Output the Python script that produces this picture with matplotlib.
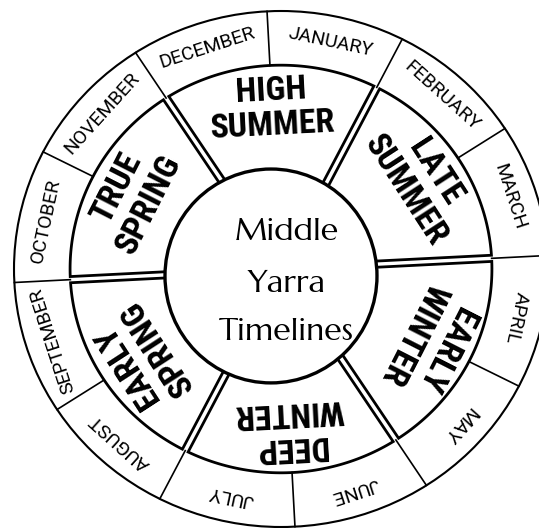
import numpy as np
import matplotlib
matplotlib.use("Agg")
import matplotlib.pyplot as plt
from matplotlib import font_manager as fm
from matplotlib.patches import Polygon, Ellipse, Circle

months = ["JANUARY", "FEBRUARY", "MARCH", "APRIL", "MAY", "JUNE",
          "JULY", "AUGUST", "SEPTEMBER", "OCTOBER", "NOVEMBER", "DECEMBER"]
season_top = ["HIGH", "LATE", "EARLY", "DEEP", "EARLY", "TRUE"]
season_bottom = ["SUMMER", "SUMMER", "WINTER", "WINTER", "SPRING", "SPRING"]
title_lines = ["Middle", "Yarra", "Timelines"]

START = -3.0            # Dec/Jan boundary, degrees clockwise from 12 o'clock
R_OUT, R_MID, R_IN = 1.0, 0.79, 0.2
GAP = 0.012             # half width of the gap between season boxes


def pick(*families):
    for fam in families:
        try:
            fm.findfont(fm.FontProperties(family=fam), fallback_to_default=False)
            return fam
        except ValueError:
            pass
    return "DejaVu Sans"


month_font = pick("Roboto", "DejaVu Sans")
season_font = pick("Roboto Condensed", "DejaVu Sans")
title_font = pick("Marcellus", "Liberation Serif")


def xy(r, deg):
    t = np.radians(deg)
    return r * np.sin(t), r * np.cos(t)


fig = plt.figure(figsize=(5.39, 5.28), dpi=100)
ax = fig.add_axes([0, 0, 1, 1])
ax.set_xlim(-281 / 267, 258 / 267)
ax.set_ylim(-259 / 258, 269 / 258)
ax.axis("off")

# outer ring
ax.add_patch(Circle((0, 0), R_OUT, fill=False, ec="black", lw=1.5))

# months
m_step = 360 / len(months)
for i, name in enumerate(months):
    a0 = START + i * m_step
    x0, y0 = xy(R_MID, a0)
    x1, y1 = xy(R_OUT, a0)
    ax.plot([x0, x1], [y0, y1], color="black", lw=1.2)
    mid = a0 + m_step / 2
    tx, ty = xy(0.9, mid)
    ax.text(tx, ty, name, rotation=-mid, rotation_mode="anchor",
            ha="center", va="center", fontsize=14, family=month_font)

# season boxes
s_step = 360 / len(season_top)
for k, (top, bottom) in enumerate(zip(season_top, season_bottom)):
    a0 = START - m_step + k * s_step
    a1 = a0 + s_step
    do = np.degrees(np.arcsin(GAP / R_MID))
    di = np.degrees(np.arcsin(GAP / R_IN))
    outer = np.linspace(a0 + do, a1 - do, 60)
    inner = np.linspace(a1 - di, a0 + di, 30)
    pts = [xy(R_MID, a) for a in outer] + [xy(R_IN, a) for a in inner]
    ax.add_patch(Polygon(pts, closed=True, fc="white", ec="black",
                         lw=2.0, joinstyle="miter"))
    mid = a0 + s_step / 2
    for r, word in ((0.69, top), (0.555, bottom)):
        tx, ty = xy(r, mid)
        ax.text(tx, ty, word, rotation=-mid, rotation_mode="anchor",
                ha="center", va="center", fontsize=24.5, fontweight="bold",
                family=season_font)

# pasted centre disc
ax.add_patch(Ellipse((-0.0375, -0.027), 0.794, 0.829, fc="white",
                     ec="black", lw=2.4, zorder=5))
for word, y in zip(title_lines, [0.112, -0.089, -0.275]):
    ax.text(0.022, y, word, ha="center", va="baseline", fontsize=23,
            family=title_font, zorder=6)

fig.savefig("out.png", dpi=100, facecolor="white")
